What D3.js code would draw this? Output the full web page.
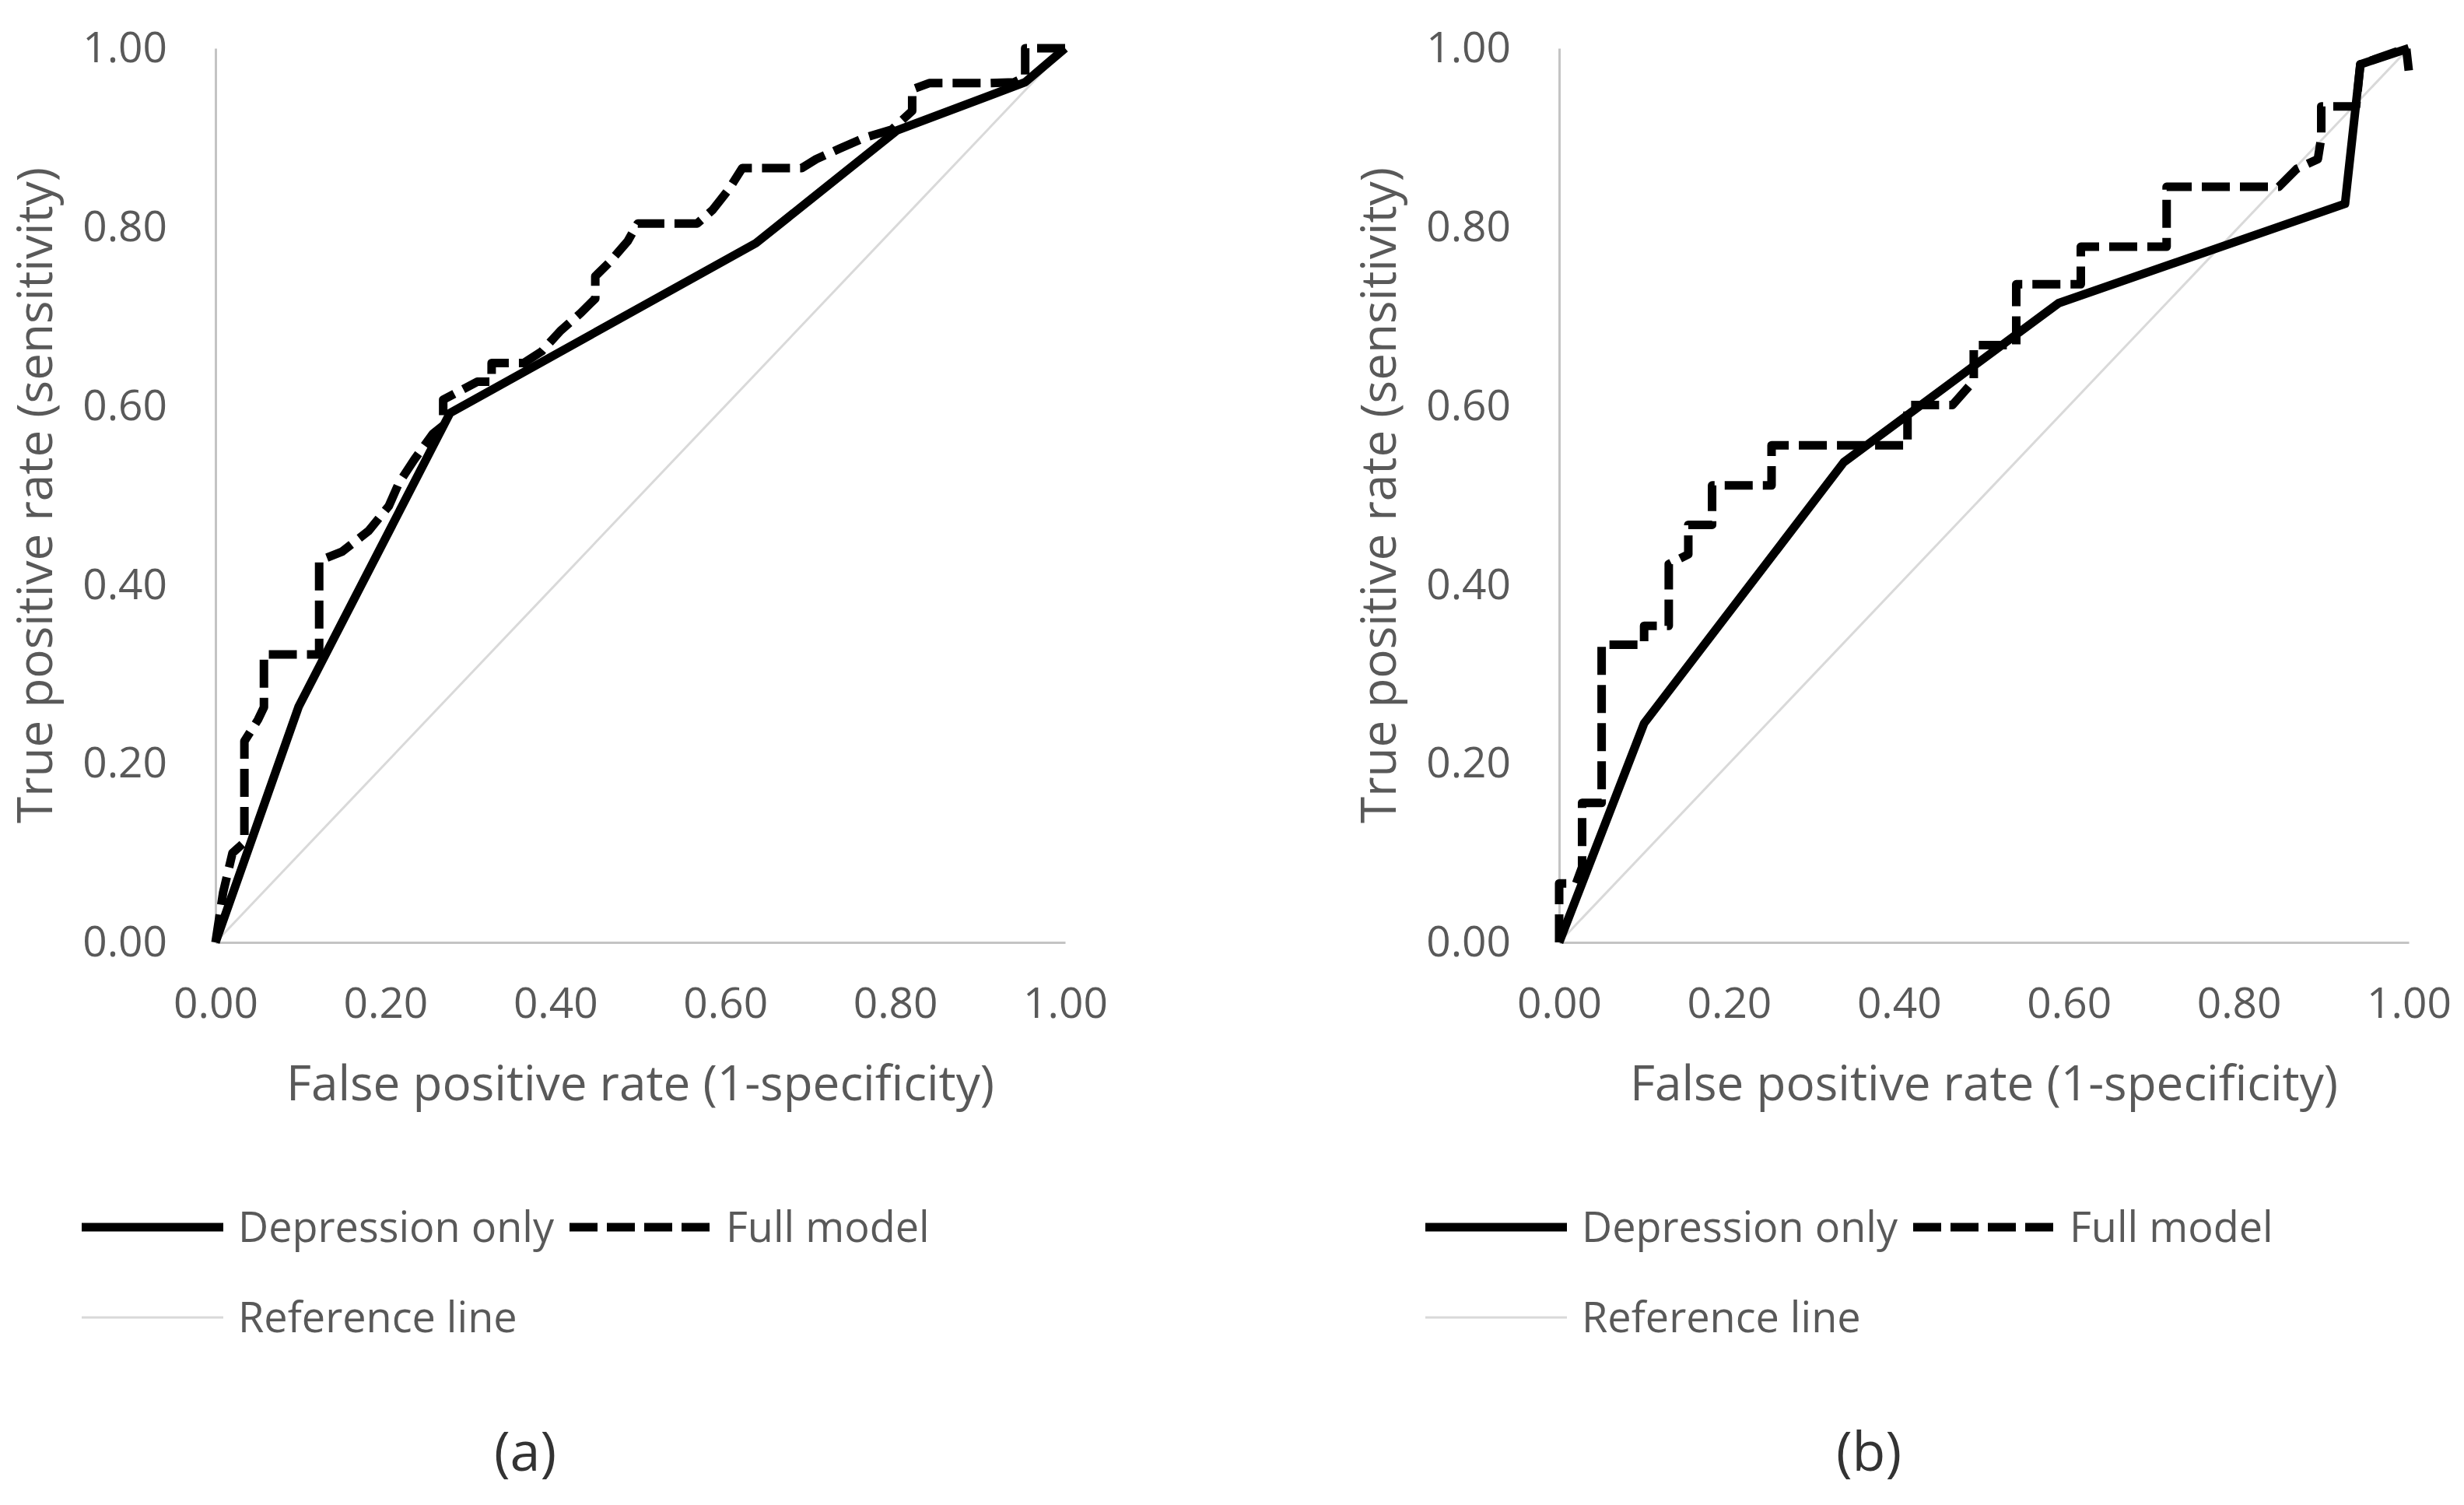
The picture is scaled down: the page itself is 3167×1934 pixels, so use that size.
<!DOCTYPE html>
<html>
<head>
<meta charset="utf-8">
<script src="https://cdn.jsdelivr.net/npm/d3@7"></script>
<style>
    html, body { margin: 0; padding: 0; background: #fff; }
    #chart text { font-family: "Open Sans", "Noto Sans", sans-serif; fill: #595959; }
</style>
</head>
<body>
<div id="chart"></div>
<script>
// axis ticks (both panels)
const tickValues = [0, 0.2, 0.4, 0.6, 0.8, 1.0];

// panel (a): [false positive rate, true positive rate]
const depressionOnlyA = [[0, 0], [0.098, 0.264], [0.276, 0.592], [0.636, 0.782], [0.802, 0.908], [0.953, 0.962], [1, 1]];
const fullModelA = [
    [0, 0], [0.009, 0.056], [0.02, 0.10], [0.034, 0.112], [0.034, 0.225], [0.05, 0.249], [0.057, 0.263],
    [0.057, 0.322], [0.122, 0.322], [0.122, 0.427], [0.149, 0.437], [0.18, 0.46], [0.204, 0.488],
    [0.216, 0.514], [0.234, 0.54], [0.256, 0.569], [0.268, 0.578], [0.268, 0.607], [0.308, 0.627],
    [0.325, 0.627], [0.325, 0.648], [0.363, 0.648], [0.384, 0.661], [0.406, 0.684], [0.43, 0.704],
    [0.447, 0.72], [0.447, 0.745], [0.463, 0.76], [0.485, 0.784], [0.497, 0.804], [0.567, 0.804],
    [0.585, 0.819], [0.604, 0.842], [0.62, 0.866], [0.69, 0.866], [0.707, 0.876], [0.735, 0.888],
    [0.764, 0.9], [0.796, 0.909], [0.82, 0.93], [0.82, 0.954], [0.84, 0.961], [0.91, 0.961],
    [0.94, 0.962], [0.953, 0.968], [0.953, 1.0], [1.0, 1.0]
];

// panel (b)
const depressionOnlyB = [[0, 0], [0.1, 0.245], [0.335, 0.537], [0.588, 0.715], [0.925, 0.826], [0.943, 0.982], [1, 1]];
const fullModelB = [
    [0, 0], [0, 0.066], [0.02, 0.066], [0.027, 0.084], [0.027, 0.156], [0.05, 0.156], [0.05, 0.333],
    [0.1, 0.333], [0.1, 0.354], [0.129, 0.354], [0.129, 0.423], [0.152, 0.434], [0.152, 0.467],
    [0.18, 0.467], [0.18, 0.511], [0.25, 0.511], [0.25, 0.556], [0.41, 0.556], [0.41, 0.601],
    [0.463, 0.601], [0.488, 0.628], [0.488, 0.668], [0.538, 0.668], [0.538, 0.736], [0.614, 0.736],
    [0.614, 0.778], [0.715, 0.778], [0.715, 0.845], [0.847, 0.845], [0.868, 0.865], [0.893, 0.876],
    [0.897, 0.9], [0.897, 0.935], [0.938, 0.935], [0.943, 0.982], [0.997, 1.0], [1.0, 0.975]
];

const referenceLine = [[0, 0], [1, 1]];

const panelLabels = ["(a)", "(b)"];
const seriesNames = ["Depression only", "Full model", "Reference line"];
const xTitle = "False positive rate (1-specificity)";
const yTitle = "True positive rate (sensitivity)";

const width = 3167, height = 1934;
const svg = d3.select("#chart")
    .append("svg")
    .attr("width", width)
    .attr("height", height);

const panels = [
    { label: panelLabels[0], dx: 0, depression: depressionOnlyA, full: fullModelA },
    { label: panelLabels[1], dx: 1727, depression: depressionOnlyB, full: fullModelB }
];

const x = d3.scaleLinear().domain([0, 1]).range([277, 1369]);
const y = d3.scaleLinear().domain([0, 1]).range([1211, 62]);
const line = d3.line().x(d => x(d[0])).y(d => y(d[1]));

const dash = "36,13";

panels.forEach(p => {
    const g = svg.append("g").attr("transform", `translate(${p.dx},0)`);

    // axes, no tick marks
    const yAxis = g.append("g")
        .attr("transform", `translate(${x(0)},0)`)
        .call(d3.axisLeft(y).tickValues(tickValues).tickFormat(d3.format(".2f")).tickSize(0).tickPadding(62));
    const xAxis = g.append("g")
        .attr("transform", `translate(0,${y(0)})`)
        .call(d3.axisBottom(x).tickValues(tickValues).tickFormat(d3.format(".2f")).tickSize(0).tickPadding(58));

    [yAxis, xAxis].forEach(a => {
        a.select(".domain").attr("stroke", "#c4c4c4").attr("stroke-width", 3);
        a.selectAll("text").attr("font-size", 55).attr("fill", "#595959");
    });

    // reference diagonal
    g.append("path")
        .datum(referenceLine)
        .attr("d", line)
        .attr("fill", "none")
        .attr("stroke", "#d9d9d9")
        .attr("stroke-width", 3);

    g.append("path")
        .datum(p.full)
        .attr("d", line)
        .attr("fill", "none")
        .attr("stroke", "#000")
        .attr("stroke-width", 11)
        .attr("stroke-dasharray", dash)
        .attr("stroke-linejoin", "round");

    g.append("path")
        .datum(p.depression)
        .attr("d", line)
        .attr("fill", "none")
        .attr("stroke", "#000")
        .attr("stroke-width", 11)
        .attr("stroke-linejoin", "round");

    // axis titles
    g.append("text")
        .attr("x", (x(0) + x(1)) / 2)
        .attr("y", 1414)
        .attr("text-anchor", "middle")
        .attr("font-size", 62)
        .text(xTitle);

    g.append("text")
        .attr("transform", `translate(67,${(y(0) + y(1)) / 2}) rotate(-90)`)
        .attr("text-anchor", "middle")
        .attr("font-size", 62)
        .text(yTitle);

    // legend
    const lg = g.append("g");
    lg.append("line").attr("x1", 105).attr("x2", 287).attr("y1", 1577).attr("y2", 1577)
        .attr("stroke", "#000").attr("stroke-width", 11);
    lg.append("text").attr("x", 306).attr("y", 1577).attr("dy", "0.35em")
        .attr("font-size", 54).text(seriesNames[0]);
    lg.append("line").attr("x1", 732).attr("x2", 914).attr("y1", 1577).attr("y2", 1577)
        .attr("stroke", "#000").attr("stroke-width", 11).attr("stroke-dasharray", "36,12");
    lg.append("text").attr("x", 933).attr("y", 1577).attr("dy", "0.35em")
        .attr("font-size", 54).text(seriesNames[1]);
    lg.append("line").attr("x1", 105).attr("x2", 287).attr("y1", 1693).attr("y2", 1693)
        .attr("stroke", "#d9d9d9").attr("stroke-width", 3);
    lg.append("text").attr("x", 306).attr("y", 1693).attr("dy", "0.35em")
        .attr("font-size", 54).text(seriesNames[2]);

    g.append("text")
        .attr("x", 675)
        .attr("y", 1890)
        .attr("text-anchor", "middle")
        .attr("font-size", 70)
        .style("fill", "#333")
        .text(p.label);
});
</script>
</body>
</html>
